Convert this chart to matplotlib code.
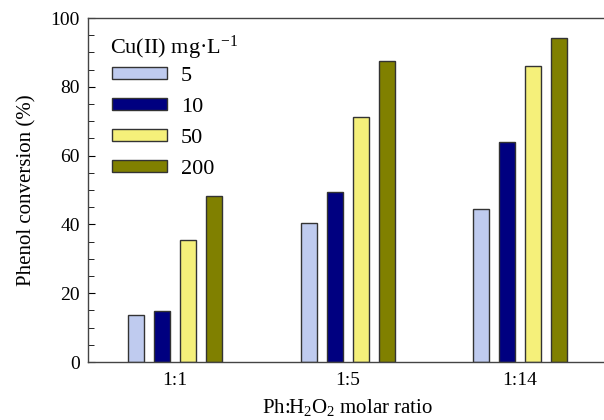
import matplotlib.pyplot as plt
import numpy as np

plt.rcParams['font.family'] = ['Liberation Serif', 'DejaVu Serif']
plt.rcParams['mathtext.fontset'] = 'custom'
plt.rcParams['mathtext.rm'] = 'Liberation Serif'
plt.rcParams['mathtext.default'] = 'regular'

# data
ratios = ['1:1', '1:5', '1:14']
cu_levels = ['5', '10', '50', '200']
conv_5 = [13.8, 40.5, 44.6]
conv_10 = [14.7, 49.3, 63.9]
conv_50 = [35.4, 71.1, 86.1]
conv_200 = [48.2, 87.6, 94.2]
series = [conv_5, conv_10, conv_50, conv_200]
colors = ['#bfcbef', '#000080', '#f5f07a', '#808000']

fig = plt.figure(figsize=(6.04, 4.2), dpi=100)
ax = fig.add_axes([0.1457, 0.138, 0.858, 0.819])

x = np.arange(len(ratios))
pitch = 0.151
width = 0.093
for i, (vals, col, lab) in enumerate(zip(series, colors, cu_levels)):
    ax.bar(x + (i - 1.5) * pitch, vals, width, color=col, edgecolor='#333333',
           linewidth=1, label=lab, zorder=2)

ax.set_xlim(-0.506, 2.5)
ax.set_ylim(0, 100)
ax.set_xticks(x)
ax.set_xticklabels(ratios, fontsize=14)
ax.set_yticks(np.arange(0, 101, 20))
ax.set_yticks(np.arange(0, 101, 5), minor=True)
ax.tick_params(axis='y', which='major', direction='in', length=5, labelsize=14, pad=6)
ax.tick_params(axis='y', which='minor', direction='in', length=4)
ax.tick_params(axis='x', length=0, pad=7)

for s in ax.spines.values():
    s.set_color('#444444')
    s.set_linewidth(1)

ax.set_ylabel('Phenol conversion (%)', fontsize=15, labelpad=10)
ax.set_xlabel('Ph:H$_2$O$_2$ molar ratio', fontsize=15, labelpad=6)

# legend title drawn as plain text so the gap to the entries matches
ax.text(0.042, 0.895, 'Cu(II) mg·L$^{-1}$', transform=ax.transAxes,
        fontsize=16, ha='left', va='baseline')
leg = ax.legend(loc='upper left', bbox_to_anchor=(0.046, 0.857),
                frameon=False, fontsize=16, borderpad=0, borderaxespad=0,
                handlelength=2.5, handleheight=0.45,
                labelspacing=0.54, handletextpad=0.6)

fig.savefig('out.png', dpi=100)
